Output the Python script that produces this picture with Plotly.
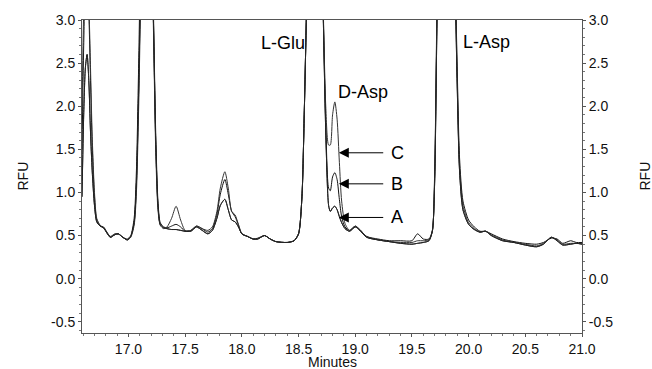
import plotly.graph_objects as go

# ---- data ----
minutes = [16.59, 16.605, 16.62, 16.635, 16.65, 16.665, 16.68, 16.70, 16.72, 16.75,
           16.78, 16.81, 16.84, 16.88, 16.91, 16.95, 16.99, 17.02, 17.05, 17.07,
           17.09, 17.11, 17.14, 17.17, 17.20, 17.22, 17.24, 17.26, 17.28, 17.31,
           17.34, 17.38, 17.42, 17.46, 17.50, 17.55, 17.60, 17.65, 17.70, 17.74,
           17.78, 17.81, 17.85, 17.88, 17.91, 17.94, 17.97, 18.00, 18.05, 18.10,
           18.14, 18.20, 18.25, 18.30, 18.40, 18.46, 18.50, 18.53, 18.55, 18.57,
           18.60, 18.64, 18.68, 18.70, 18.72, 18.74, 18.765, 18.78, 18.80, 18.82,
           18.84, 18.86, 18.88, 18.91, 18.95, 19.00, 19.04, 19.10, 19.20, 19.30,
           19.40, 19.50, 19.55, 19.60, 19.65, 19.68, 19.70, 19.72, 19.75, 19.80,
           19.85, 19.88, 19.90, 19.92, 19.95, 20.00, 20.05, 20.10, 20.15, 20.20,
           20.30, 20.40, 20.50, 20.60, 20.66, 20.73, 20.78, 20.83, 20.90, 20.95,
           21.00]

rfu_a = [0.95, 1.90, 2.45, 2.60, 2.30, 1.70, 1.25, 0.85, 0.66, 0.61,
         0.59, 0.53, 0.48, 0.51, 0.52, 0.48, 0.45, 0.49, 0.65, 1.10,
         2.20, 3.60, 5.00, 5.20, 4.20, 3.00, 1.60, 0.85, 0.63, 0.59,
         0.58, 0.57, 0.57, 0.56, 0.55, 0.55, 0.60, 0.56, 0.52, 0.56,
         0.70, 0.85, 0.92, 0.80, 0.68, 0.66, 0.60, 0.52, 0.49, 0.46,
         0.46, 0.50, 0.46, 0.43, 0.42, 0.44, 0.52, 0.95, 1.90, 3.10,
         5.00, 6.00, 5.20, 4.20, 2.90, 1.70, 0.85, 0.78, 0.82, 0.84,
         0.80, 0.72, 0.65, 0.58, 0.55, 0.60, 0.56, 0.48, 0.45, 0.43,
         0.41, 0.40, 0.41, 0.42, 0.44, 0.55, 1.10, 2.90, 5.50, 6.80,
         5.60, 3.50, 2.20, 1.25, 0.80, 0.63, 0.57, 0.54, 0.55, 0.50,
         0.44, 0.42, 0.39, 0.37, 0.40, 0.48, 0.44, 0.39, 0.40, 0.41,
         0.40]

rfu_b = [1.50, 2.70, 3.40, 3.50, 3.10, 2.30, 1.55, 0.95, 0.68, 0.61,
         0.60, 0.54, 0.49, 0.52, 0.52, 0.48, 0.46, 0.50, 0.70, 1.25,
         2.50, 4.00, 5.20, 5.30, 4.30, 3.10, 1.70, 0.90, 0.65, 0.60,
         0.59, 0.61, 0.63, 0.60, 0.55, 0.56, 0.61, 0.58, 0.54, 0.58,
         0.75, 0.98, 1.15, 0.98, 0.78, 0.72, 0.62, 0.52, 0.49, 0.46,
         0.47, 0.50, 0.46, 0.43, 0.42, 0.44, 0.52, 0.95, 1.90, 3.10,
         5.00, 6.00, 5.20, 4.20, 2.95, 1.80, 1.05, 1.02, 1.18, 1.23,
         1.15, 0.92, 0.72, 0.60, 0.56, 0.61, 0.57, 0.49, 0.46, 0.44,
         0.44, 0.44, 0.52, 0.46, 0.46, 0.56, 1.20, 3.10, 5.70, 7.00,
         5.80, 3.70, 2.40, 1.40, 0.90, 0.68, 0.60, 0.55, 0.55, 0.52,
         0.46, 0.43, 0.41, 0.40, 0.42, 0.47, 0.46, 0.41, 0.44, 0.42,
         0.42]

rfu_c = [1.90, 3.10, 3.60, 3.55, 3.20, 2.45, 1.65, 1.00, 0.70, 0.62,
         0.59, 0.53, 0.48, 0.51, 0.52, 0.48, 0.45, 0.48, 0.62, 1.00,
         2.00, 3.40, 4.90, 5.10, 4.10, 2.90, 1.50, 0.80, 0.62, 0.58,
         0.60, 0.70, 0.84, 0.68, 0.56, 0.56, 0.61, 0.58, 0.56, 0.60,
         0.78, 1.05, 1.24, 1.05, 0.78, 0.74, 0.63, 0.52, 0.49, 0.46,
         0.46, 0.50, 0.46, 0.43, 0.42, 0.44, 0.52, 0.95, 1.90, 3.10,
         5.00, 6.00, 5.20, 4.20, 3.00, 2.00, 1.55, 1.55, 1.90, 2.05,
         1.85, 1.35, 0.90, 0.64, 0.56, 0.61, 0.57, 0.49, 0.45, 0.43,
         0.42, 0.42, 0.44, 0.44, 0.45, 0.55, 1.15, 3.00, 5.60, 6.90,
         5.70, 3.60, 2.30, 1.30, 0.85, 0.65, 0.58, 0.54, 0.55, 0.51,
         0.45, 0.42, 0.40, 0.38, 0.41, 0.48, 0.45, 0.40, 0.41, 0.41,
         0.41]

minute_ticks = [17.0, 17.5, 18.0, 18.5, 19.0, 19.5, 20.0, 20.5, 21.0]
minute_labels = ["17.0", "17.5", "18.0", "18.5", "19.0", "19.5", "20.0", "20.5", "21.0"]
rfu_ticks = [-0.5, 0.0, 0.5, 1.0, 1.5, 2.0, 2.5, 3.0]
rfu_labels = ["-0.5", "0.0", "0.5", "1.0", "1.5", "2.0", "2.5", "3.0"]

peak_names = ["L-Glu", "D-Asp", "L-Asp"]
peak_x = [18.36, 19.07, 20.16]
peak_y = [2.73, 2.17, 2.75]

sample_names = ["C", "B", "A"]
sample_arrow_y = [1.46, 1.10, 0.71]
arrow_head_x = 18.855
arrow_tail_x = 19.26
letter_x = 19.37

X_RANGE = [16.59, 21.0]
Y_RANGE = [-0.63, 3.0]

FONT = "Liberation Sans, Arial, sans-serif"

fig = go.Figure()
line_colors = ["#222222", "#111111", "#333333"]
for name, ys, col in zip(["A", "B", "C"], [rfu_a, rfu_b, rfu_c], line_colors):
    fig.add_trace(go.Scatter(
        x=minutes, y=ys, mode="lines", name=name,
        line=dict(color=col, width=1, shape="spline", smoothing=0.7),
        showlegend=False, hoverinfo="skip",
    ))
# same trace on the mirrored right axis so that axis is drawn
fig.add_trace(go.Scatter(
    x=minutes, y=rfu_a, mode="lines", yaxis="y2",
    line=dict(color="#222222", width=1, shape="spline", smoothing=0.7),
    showlegend=False, hoverinfo="skip",
))

axis_common = dict(
    showgrid=False, zeroline=False, showline=True, linecolor="#555555", linewidth=1,
    ticks="outside", ticklen=3, tickcolor="#555555", tickwidth=1,
    tickfont=dict(family=FONT, size=14, color="#111111"),
)

# plot area on the page: x 82..582, y 19..334
fig.update_layout(
    width=652, height=369,
    margin=dict(l=82, r=70, t=19, b=35),
    paper_bgcolor="white", plot_bgcolor="white",
    xaxis=dict(range=X_RANGE, tickvals=minute_ticks, ticktext=minute_labels,
               mirror=True,
               minor=dict(dtick=0.1, ticks="outside", ticklen=2, tickcolor="#777777"),
               **axis_common),
    yaxis=dict(range=Y_RANGE, tickvals=rfu_ticks, ticktext=rfu_labels,
               minor=dict(dtick=0.1, ticks="outside", ticklen=2, tickcolor="#777777"),
               **axis_common),
    yaxis2=dict(range=Y_RANGE, tickvals=rfu_ticks, ticktext=rfu_labels,
                overlaying="y", side="right",
                minor=dict(dtick=0.1, ticks="outside", ticklen=2, tickcolor="#777777"),
                **axis_common),
)

annotations = []
for name, px, py in zip(peak_names, peak_x, peak_y):
    annotations.append(dict(x=px, y=py, xref="x", yref="y", text=name, showarrow=False,
                            font=dict(family=FONT, size=18, color="#000000"),
                            xanchor="center", yanchor="middle"))
for name, ay in zip(sample_names, sample_arrow_y):
    annotations.append(dict(x=arrow_head_x, y=ay, xref="x", yref="y",
                            ax=arrow_tail_x, ay=ay, axref="x", ayref="y",
                            text="", showarrow=True, arrowhead=2, arrowsize=2,
                            arrowwidth=1, arrowcolor="#000000", standoff=0))
    annotations.append(dict(x=letter_x, y=ay, xref="x", yref="y", text=name,
                            showarrow=False, xanchor="center", yanchor="middle",
                            font=dict(family=FONT, size=18, color="#000000")))
annotations.append(dict(x=-0.12, y=0.5, xref="paper", yref="paper", text="RFU",
                        textangle=-90, showarrow=False, xanchor="center", yanchor="middle",
                        font=dict(family=FONT, size=14, color="#111111")))
annotations.append(dict(x=1.124, y=0.5, xref="paper", yref="paper", text="RFU",
                        textangle=-90, showarrow=False, xanchor="center", yanchor="middle",
                        font=dict(family=FONT, size=14, color="#111111")))
annotations.append(dict(x=0.5, y=-0.092, xref="paper", yref="paper", text="Minutes",
                        showarrow=False, xanchor="center", yanchor="middle",
                        font=dict(family=FONT, size=14, color="#111111")))
fig.update_layout(annotations=annotations)

fig.write_html(
    "out.html",
    config={"displayModeBar": False},
    post_script="document.body.style.margin='0';document.body.style.overflow='hidden';",
)
